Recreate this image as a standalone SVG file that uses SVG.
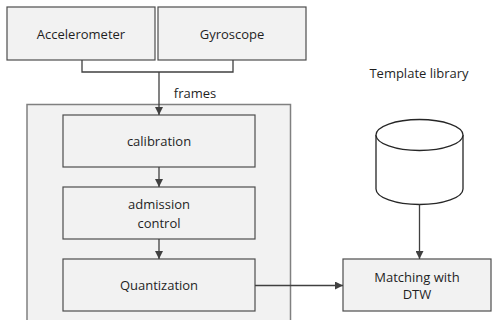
<svg xmlns="http://www.w3.org/2000/svg" width="492" height="320" viewBox="0 0 492 320">
  <style>
    .box { fill: #f2f2f2; stroke: #4d4d4d; stroke-width: 1.2; }
    .outer { fill: #f2f2f2; stroke: #808080; stroke-width: 1.5; }
    .line { fill: none; stroke: #404040; stroke-width: 1.3; }
    .lbl { font-family: "Open Sans", "Liberation Sans", sans-serif; font-size: 13px; fill: #1f1f1f; text-anchor: middle; }
    .db { fill: #ffffff; stroke: #262626; stroke-width: 1.3; }
  </style>
  <defs>
    <marker id="arrow" viewBox="0 0 10 10" refX="10" refY="5" markerWidth="8" markerHeight="8" markerUnits="userSpaceOnUse" orient="auto">
      <path d="M0,0 L10,5 L0,10 z" fill="#404040"/>
    </marker>
  </defs>

  <!-- processing container -->
  <g id="pipeline">
    <rect class="outer" x="27" y="104.5" width="263.5" height="225"/>
  </g>

  <g id="accelerometer">
    <rect class="box" x="7" y="7" width="148" height="53"/>
    <text class="lbl" x="81" y="38.5">Accelerometer</text>
  </g>
  <g id="gyroscope">
    <rect class="box" x="158" y="7" width="148" height="53"/>
    <text class="lbl" x="232" y="38.5">Gyroscope</text>
  </g>

  <g id="calibration">
    <rect class="box" x="63" y="115" width="192" height="52"/>
    <text class="lbl" x="159" y="146">calibration</text>
  </g>
  <g id="admission">
    <rect class="box" x="63" y="187" width="192" height="52"/>
    <text class="lbl" x="159" y="209">admission</text>
    <text class="lbl" x="159" y="227.5">control</text>
  </g>
  <g id="quantization">
    <rect class="box" x="63" y="259" width="192" height="52"/>
    <text class="lbl" x="159" y="290">Quantization</text>
  </g>

  <g id="template-library">
    <path class="db" d="M376,135 A43.5,15.5 0 0 1 463,135 L463,189 A43.5,15.5 0 0 1 376,189 Z"/>
    <path class="db" fill="none" d="M376,135 A43.5,15.5 0 0 0 463,135"/>
    <text class="lbl" x="419" y="78">Template library</text>
  </g>

  <g id="matching">
    <rect class="box" x="343" y="259" width="148" height="52"/>
    <text class="lbl" x="417" y="281.5">Matching with</text>
    <text class="lbl" x="417" y="299">DTW</text>
  </g>

  <g id="connectors">
    <path class="line" d="M82,60 V72 H233 V60"/>
    <path class="line" d="M159,72 V115" marker-end="url(#arrow)"/>
    <text class="lbl" x="195" y="97.5">frames</text>
    <path class="line" d="M159,167 V187" marker-end="url(#arrow)"/>
    <path class="line" d="M159,239 V259" marker-end="url(#arrow)"/>
    <path class="line" d="M255,285.5 H343" marker-end="url(#arrow)"/>
    <path class="line" d="M419.5,204.5 V259" marker-end="url(#arrow)"/>
  </g>
</svg>
